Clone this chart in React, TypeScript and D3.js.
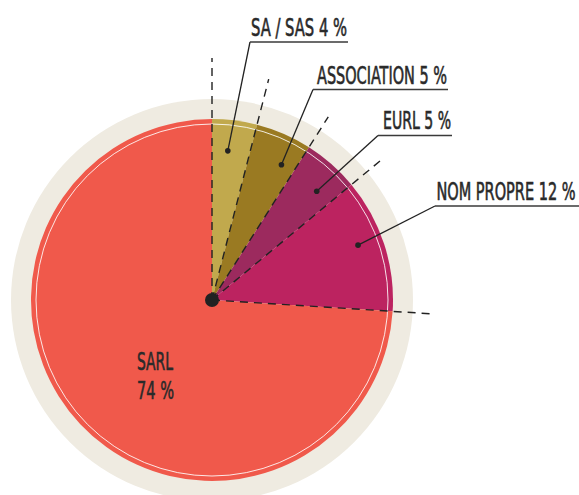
import React from 'react';
import * as d3 from 'd3';

const categories = ['SA / SAS', 'ASSOCIATION', 'EURL', 'NOM PROPRE', 'SARL'];
const values = [4, 5, 5, 12, 74];
const colors = ['#C1A94D', '#9A7A22', '#9C2A5E', '#BC2360', '#F0594B'];

const W = 579, H = 495;
const CX = 212, CY = 300;
const R_RING = 201, R = 181, R_WHITE = 176;

// callout layout
const dotT = [0.42, 0.71, 0.64, 0.44];
const dotR = [150, 152, 151, 156];
const labelPos: [number, number][] = [[251, 36], [317, 84], [383, 129], [436.5, 200]];
const labelWidths = [96, 130, 68, 139];
const underline: [number, number, number][] = [[250, 348, 42], [313, 448, 89.5], [378, 452, 135.5], [435, 579, 206]];
const dashLen = [242, 228, 217, 221, 220];

const pt = (a: number, r: number): [number, number] => [CX + r * Math.sin(a), CY - r * Math.cos(a)];

export default function App() {
  const pie = d3.pie<number>().sort(null).value(d => d)(values);
  const arc = d3.arc<d3.PieArcDatum<number>>().innerRadius(0).outerRadius(R);
  const font = '"DejaVu Sans Condensed", "Liberation Sans Narrow", sans-serif';
  const textStyle = { stroke: '#2a2a2a', strokeWidth: 0.6 };
  return (
    <svg width={W} height={H} style={{ position: 'absolute', left: 0, top: 0 }}>
      <circle cx={CX} cy={CY} r={R_RING} fill="#EFEBE1" />
      <g transform={`translate(${CX},${CY})`}>
        {pie.map((p, i) => (
          <path key={i} d={arc(p) || ''} fill={colors[i]} />
        ))}
      </g>
      <circle cx={CX} cy={CY} r={R_WHITE} fill="none" stroke="#fff" strokeOpacity={0.85} strokeWidth={1} />
      {pie.map((p, i) => {
        const [x2, y2] = pt(p.startAngle, dashLen[i]);
        return (
          <line key={'d' + i} x1={CX} y1={CY} x2={x2} y2={y2} stroke="#222" strokeWidth={1.4} strokeDasharray="8,6" />
        );
      })}
      {pie.slice(0, 4).map((p, i) => {
        const a = p.startAngle + (p.endAngle - p.startAngle) * dotT[i];
        const [dx, dy] = pt(a, dotR[i]);
        const [ux1, ux2, uy] = underline[i];
        return (
          <g key={'c' + i}>
            <line x1={ux1} y1={uy} x2={dx} y2={dy} stroke="#222" strokeWidth={1.3} />
            <line x1={ux1} y1={uy} x2={ux2} y2={uy} stroke="#3a3a3a" strokeWidth={1.6} />
            <circle cx={dx} cy={dy} r={2.8} fill="#222" />
            <text x={labelPos[i][0]} y={labelPos[i][1]} fontFamily={font} fontSize={24} fill="#2a2a2a" style={textStyle}
              textLength={labelWidths[i]} lengthAdjust="spacingAndGlyphs">
              {`${categories[i]} ${values[i]} %`}
            </text>
          </g>
        );
      })}
      <text x={137} y={370} fontFamily={font} fontSize={25} fill="#2a2a2a" style={textStyle} textLength={36} lengthAdjust="spacingAndGlyphs">{categories[4]}</text>
      <text x={137} y={399} fontFamily={font} fontSize={25} fill="#2a2a2a" style={textStyle} textLength={37} lengthAdjust="spacingAndGlyphs">{`${values[4]} %`}</text>
      <circle cx={CX} cy={CY} r={7} fill="#222" />
    </svg>
  );
}
